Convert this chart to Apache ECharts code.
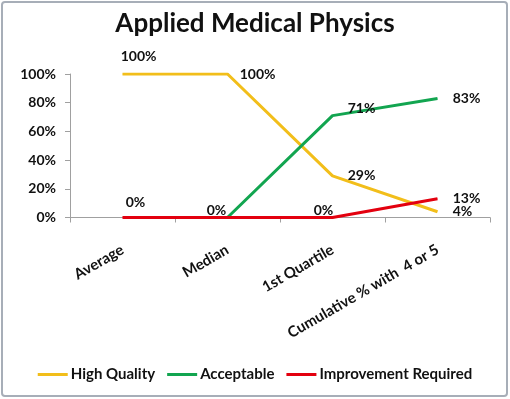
<!DOCTYPE html>
<html>
<head>
<meta charset="utf-8">
<script src="https://cdn.jsdelivr.net/npm/echarts@6/dist/echarts.min.js"></script>
<style>
html,body{margin:0;padding:0;background:#fff;}
#c{width:510px;height:399px;}
</style>
</head>
<body>
<div id="c"></div>
<script>
var categories = ['Average', 'Median', '1st Quartile', 'Cumulative % with  4 or 5'];
var highQuality = [100, 100, 29, 4];
var acceptable = [null, 0, 71, 83];
var improvementRequired = [0, 0, 0, 13];
var yTicks = [0, 20, 40, 60, 80, 100];

var FONT = 'Lato, "Open Sans", sans-serif';

// label placement styles (not data): [position, dx, dy]
var labelStyles = [
  [['right', -7, -18], ['right', 7, 0], ['right', 10, 0], ['right', 10, 0]],
  [null, ['left', 4, -7], ['right', 10, -7], ['right', 10, 0]],
  [['right', -2, -15], null, ['left', 6, -7], ['right', 10, 0]]
];

function build(values, sIdx) {
  return values.map(function (v, i) {
    var st = labelStyles[sIdx][i];
    return {value: v, label: st ? {show: true, position: st[0]} : {show: false}};
  });
}

var labelBase = {
  show: true,
  formatter: '{c}%',
  color: '#111',
  fontFamily: FONT,
  fontWeight: 'bold',
  fontSize: 14
};

function series(name, values, sIdx, color) {
  return {
    name: name,
    type: 'line',
    data: build(values, sIdx),
    symbol: 'circle',
    symbolSize: 0.5,
    showSymbol: true,
    connectNulls: false,
    lineStyle: {color: color, width: 3},
    itemStyle: {color: color},
    label: labelBase,
    labelLayout: function (p) {
      var st = labelStyles[p.seriesIndex][p.dataIndex];
      if (!st) return {};
      return {dx: st[1], dy: st[2], hideOverlap: false};
    },
    animation: false
  };
}

var chart = echarts.init(document.getElementById('c'), null, {renderer: 'canvas'});
chart.setOption({
  backgroundColor: '#fff',
  animation: false,
  title: {
    text: 'Applied Medical Physics',
    left: 'center',
    top: 6,
    textStyle: {fontFamily: FONT, fontWeight: 'bold', fontSize: 26, color: '#111'}
  },
  graphic: [{
    type: 'rect',
    shape: {x: 2, y: 2, width: 505, height: 394, r: 3},
    style: {fill: null, stroke: '#A7AEB8', lineWidth: 2},
    silent: true,
    z: 100
  }],
  grid: {left: 70, right: 20, top: 74, bottom: 181.5, containLabel: false},
  legend: {
    bottom: 12,
    left: 'center',
    itemWidth: 30,
    itemHeight: 3,
    itemGap: 12,
    icon: 'rect',
    textStyle: {fontFamily: FONT, fontWeight: 'bold', fontSize: 15, color: '#111', padding: [0, 0, 0, -2]},
    data: ['High Quality', 'Acceptable', 'Improvement Required']
  },
  xAxis: {
    type: 'category',
    data: categories,
    boundaryGap: true,
    axisLine: {lineStyle: {color: '#A0A0A0', width: 1}},
    axisTick: {show: true, length: 5, lineStyle: {color: '#A0A0A0'}},
    axisLabel: {
      interval: 0,
      rotate: 30,
      margin: 31,
      color: '#111',
      fontFamily: FONT,
      fontWeight: 'bold',
      fontSize: 15
    }
  },
  yAxis: {
    type: 'value',
    min: yTicks[0],
    max: yTicks[yTicks.length - 1],
    interval: 20,
    splitLine: {show: false},
    axisLine: {show: true, lineStyle: {color: '#A0A0A0', width: 1}},
    axisTick: {show: true, length: 5, lineStyle: {color: '#A0A0A0'}},
    axisLabel: {
      formatter: '{value}%',
      margin: 14,
      color: '#111',
      fontFamily: FONT,
      fontWeight: 'bold',
      fontSize: 14
    }
  },
  series: [
    series('High Quality', highQuality, 0, '#F2BE1A'),
    series('Acceptable', acceptable, 1, '#12A550'),
    series('Improvement Required', improvementRequired, 2, '#E3000F')
  ]
});
</script>
</body>
</html>
